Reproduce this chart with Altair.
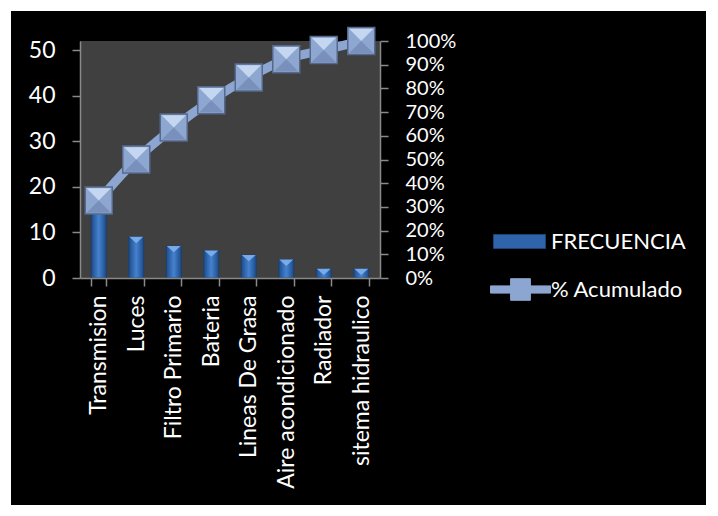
import altair as alt
import pandas as pd

categories = ["Transmision", "Luces", "Filtro Primario", "Bateria",
              "Lineas De Grasa", "Aire acondicionado", "Radiador", "sitema hidraulico"]
frecuencia = [17, 9, 7, 6, 5, 4, 2, 2]
acumulado = [0.327, 0.50, 0.635, 0.75, 0.846, 0.923, 0.962, 1.0]
left_ticks = [0, 10, 20, 30, 40, 50]
right_ticks = [0, 0.1, 0.2, 0.3, 0.4, 0.5, 0.6, 0.7, 0.8, 0.9, 1.0]

df = pd.DataFrame({"cat": categories, "frec": frecuencia, "acum": acumulado})
one = pd.DataFrame({"a": [0]})

FONT = "Lato"
W, H = 300, 237
AXIS_GREY = "#8a8a8a"

x_enc = alt.X(
    "cat:N", sort=categories, title=None,
    scale=alt.Scale(paddingInner=0.6, paddingOuter=0.3),
    axis=alt.Axis(labelAngle=-90, labelAlign="right", labelBaseline="middle",
                  labelFont=FONT, labelFontSize=23, labelColor="white",
                  labelPadding=9, tickBand="extent", tickSize=8,
                  tickColor=AXIS_GREY, domainColor=AXIS_GREY, domainWidth=1.5,
                  tickWidth=1.5, grid=False, labelLimit=400, zindex=1),
)
y_left = alt.Scale(domain=[0, 52], nice=False)
y_right = alt.Scale(domain=[0, 1], nice=False)

black_bg = alt.Chart(one).mark_rect(color="black").encode(
    x=alt.value(-69), x2=alt.value(626), y=alt.value(-30), y2=alt.value(464))
plot_bg = alt.Chart(one).mark_rect(color="#404040").encode(
    x=alt.value(0), x2=alt.value(W), y=alt.value(0), y2=alt.value(H))

bar_grad = alt.Gradient(
    gradient="linear", x1=0, x2=1, y1=0, y2=0,
    stops=[alt.GradientStop(offset=0, color="#1d4b88"),
           alt.GradientStop(offset=0.5, color="#4582cf"),
           alt.GradientStop(offset=1, color="#1d4b88")])

bars = alt.Chart(df).transform_calculate(series="'FRECUENCIA'").mark_bar(
    fill=bar_grad, stroke="#1a3f70", strokeWidth=0.8
).encode(
    x=x_enc,
    y=alt.Y("frec:Q", title=None, scale=y_left,
            axis=alt.Axis(values=left_ticks, orient="left", labelFont=FONT,
                          labelFontSize=23, labelColor="white", labelPadding=17,
                          tickSize=8, tickColor=AXIS_GREY, domainColor=AXIS_GREY,
                          domainWidth=1.5, tickWidth=1.5, grid=False, zindex=1)),
    color=alt.Color("series:N", title=None,
                    scale=alt.Scale(range=["#2f64aa"]),
                    legend=alt.Legend(orient="none", legendX=413, legendY=174,
                                      symbolType="M-1,-0.27H1V0.27H-1Z",
                                      symbolSize=2704, symbolFillColor="#3368ae",
                                      symbolStrokeColor="#1d4477", symbolStrokeWidth=1,
                                      labelFont=FONT, labelFontSize=22,
                                      labelColor="white", labelOffset=5, padding=0)),
)

bar_tops = alt.Chart(df).mark_point(
    shape="M-1,-0.45L0,0.45L1,-0.45Z", size=196, filled=True,
    fill="#7fb0ee", opacity=0.9, strokeWidth=0, yOffset=3
).encode(
    x=x_enc,
    y=alt.Y("frec:Q", scale=y_left, axis=None),
)

line = alt.Chart(df).transform_calculate(series="'% Acumulado'").mark_line(
    interpolate="monotone", strokeWidth=9
).encode(
    x=x_enc,
    y=alt.Y("acum:Q", title=None, scale=y_right,
            axis=alt.Axis(values=right_ticks, orient="right", format=".0%",
                          labelFont=FONT, labelFontSize=20, labelColor="white",
                          labelPadding=17, tickSize=8, tickColor=AXIS_GREY,
                          domainColor=AXIS_GREY, domainWidth=1.5, tickWidth=1.5,
                          grid=False, zindex=1)),
    color=alt.Color("series:N", title=None,
                    scale=alt.Scale(range=["#8ca6d1"]),
                    legend=alt.Legend(orient="none", legendX=410, legendY=218,
                                      symbolType="M-1,-0.12H1V0.12H-1Z M-0.33,-0.36H0.33V0.36H-0.33Z",
                                      symbolSize=3600, symbolFillColor="#8ca6d1",
                                      symbolStrokeColor="#5f779f", symbolStrokeWidth=1,
                                      labelFont=FONT, labelFontSize=22,
                                      labelColor="white", labelOffset=0, padding=0)),
)

pt_base = alt.Chart(df).mark_point(
    shape="square", filled=True, size=729, fill="#8ea7d0", opacity=1,
    stroke="#56698c", strokeWidth=1.5
).encode(x=x_enc, y=alt.Y("acum:Q", scale=y_right, axis=None))

pt_top = alt.Chart(df).mark_point(
    shape="M-0.9,-0.9L0.9,-0.9L0,0Z", filled=True, size=729,
    fill="#c4d6f0", opacity=1, strokeWidth=0
).encode(x=x_enc, y=alt.Y("acum:Q", scale=y_right, axis=None))

pt_bottom = alt.Chart(df).mark_point(
    shape="M-0.9,0.9L0.9,0.9L0,0Z", filled=True, size=729,
    fill="#7890bb", opacity=1, strokeWidth=0
).encode(x=x_enc, y=alt.Y("acum:Q", scale=y_right, axis=None))

chart = alt.layer(black_bg, plot_bg, bars, bar_tops, line, pt_base, pt_top, pt_bottom).resolve_scale(
    y="independent", color="independent"
).properties(
    width=W, height=H, background="white",
    padding={"left": 80, "top": 41, "right": 338, "bottom": 238},
    autosize=alt.AutoSizeParams(type="none"),
).configure_view(stroke=None)

chart.save("out.html", embed_options={"renderer": "svg", "actions": False})
